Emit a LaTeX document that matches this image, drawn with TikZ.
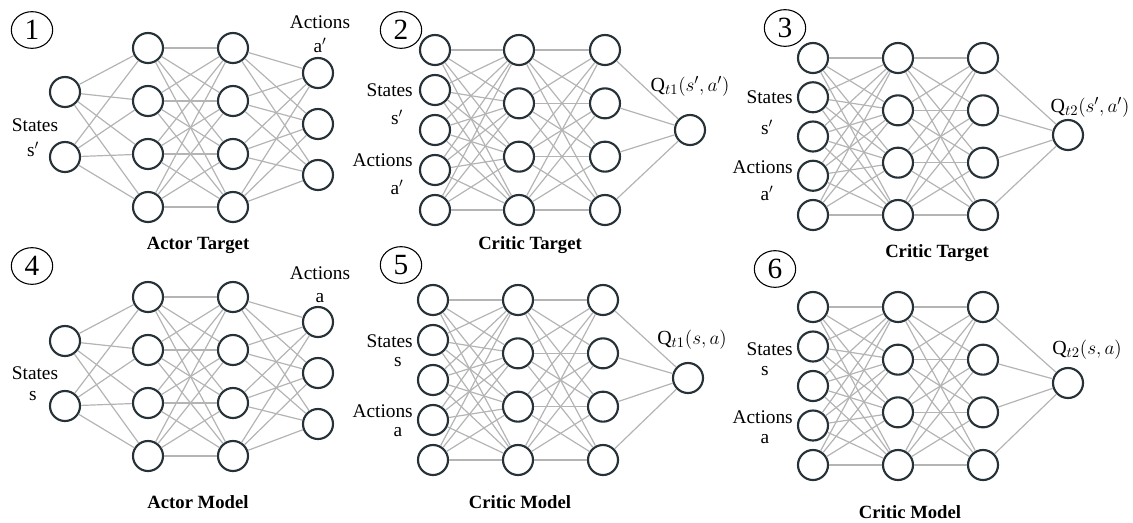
\documentclass[tikz,border=0pt]{standalone}
\usepackage{fontspec}
\setmainfont{Liberation Serif}
\usetikzlibrary{shapes.geometric}
\definecolor{nodeC}{HTML}{263238}
\definecolor{edgeC}{HTML}{B4B4B4}
\newcommand\lblfont{\rmfamily\fontsize{14.5}{16}\selectfont}
\newcommand\qfont{\rmfamily\fontsize{15}{17}\selectfont}
\newcommand\ttlfont{\rmfamily\fontsize{14}{16}\selectfont\bfseries}
\newcommand\numfont{\rmfamily\fontsize{22}{24}\selectfont}
\tikzset{
  neuron/.style={circle, draw=nodeC, line width=1.6pt, minimum size=22.5pt, inner sep=0pt},
  conn/.style={draw=edgeC, line width=0.9pt},
  lbl/.style={font=\lblfont, inner sep=0pt},
  qlbl/.style={font=\qfont, inner sep=0pt},
  ttl/.style={font=\ttlfont, inner sep=0pt},
  numc/.style={ellipse, draw=black, line width=0.8pt, minimum width=31pt, minimum height=27.5pt, inner sep=0pt, font=\numfont}
}
% critic net: #1 prefix, #2 xi, #3 xh1, #4 xh2, #5 xo, #6 ytop, #7 ybot, #8 yout
\newcommand\criticnet[8]{%
  \foreach \k in {1,...,5} \node[neuron] (#1i\k) at (#2,{#6+(\k-1)*(#7-#6)/4}) {};
  \foreach \k in {1,...,4} {
    \node[neuron] (#1h\k) at (#3,{#6+(\k-1)*(#7-#6)/3}) {};
    \node[neuron] (#1g\k) at (#4,{#6+(\k-1)*(#7-#6)/3}) {};
  }
  \node[neuron] (#1o1) at (#5,#8) {};
  \foreach \a in {1,...,5} \foreach \b in {1,...,4} \draw[conn] (#1i\a) -- (#1h\b);
  \foreach \a in {1,...,4} \foreach \b in {1,...,4} \draw[conn] (#1h\a) -- (#1g\b);
  \foreach \a in {1,...,4} \draw[conn] (#1g\a) -- (#1o1);
}
% actor net: #1 prefix, #2 y offset
\newcommand\actornet[2]{%
  \node[neuron] (#1i1) at (65,92+#2) {};
  \node[neuron] (#1i2) at (65,157+#2) {};
  \foreach \k in {1,...,4} {
    \node[neuron] (#1h\k) at (148,{48+(\k-1)*53+#2}) {};
    \node[neuron] (#1g\k) at (233,{48+(\k-1)*53+#2}) {};
  }
  \foreach \k in {1,...,3} \node[neuron] (#1o\k) at (318,{73+(\k-1)*51+#2}) {};
  \foreach \a in {1,2} \foreach \b in {1,...,4} \draw[conn] (#1i\a) -- (#1h\b);
  \foreach \a in {1,...,4} \foreach \b in {1,...,4} \draw[conn] (#1h\a) -- (#1g\b);
  \foreach \a in {1,...,4} \foreach \b in {1,...,3} \draw[conn] (#1g\a) -- (#1o\b);
}
\begin{document}
\begin{tikzpicture}[x=0.75pt,y=-0.75pt]
\useasboundingbox (0,0) rectangle (1133,522);
% ---------- Panel 1 ----------
\node[numc] (n1) at (32,30) {1};
\actornet{pa}{0}
\node[lbl] (pa-act) at (320,22) {Actions};
\node[lbl] (pa-a) at (320,45) {a$'$};
\node[lbl] (pa-st) at (35,125) {States};
\node[lbl] (pa-s) at (33,149) {s$'$};
\node[ttl] (pa-t) at (198,245) {Actor Target};
% ---------- Panel 4 ----------
\node[numc] (n4) at (32,266) {4};
\actornet{pd}{249}
\node[lbl] (pd-act) at (320,273) {Actions};
\node[lbl] (pd-a) at (320,298) {a};
\node[lbl] (pd-st) at (35,373) {States};
\node[lbl] (pd-s) at (33,396) {s};
\node[ttl] (pd-t) at (198,502) {Actor Model};
% ---------- Panel 2 ----------
\node[numc] (n2) at (401,30) {2};
\criticnet{pb}{435}{519}{605}{690}{50}{210}{130}
\node[lbl, anchor=east] (pb-st) at (413,90) {States};
\node[lbl] (pb-s) at (397,117) {s$'$};
\node[lbl, anchor=east] (pb-act) at (413,160) {Actions};
\node[lbl] (pb-a) at (397,187) {a$'$};
\node[qlbl] (pb-q) at (690,86) {Q$_{t1}(s',a')$};
\node[ttl] (pb-t) at (530,245) {Critic Target};
% ---------- Panel 5 ----------
\node[numc] (n5) at (401,265) {5};
\criticnet{pe}{433}{518}{603}{688}{300}{460}{378}
\node[lbl, anchor=east] (pe-st) at (413,341) {States};
\node[lbl] (pe-s) at (398,362) {s};
\node[lbl, anchor=east] (pe-act) at (413,411) {Actions};
\node[lbl] (pe-a) at (398,432) {a};
\node[qlbl] (pe-q) at (692,340) {Q$_{t1}(s,a)$};
\node[ttl] (pe-t) at (520,502) {Critic Model};
% ---------- Panel 3 ----------
\node[numc] (n3) at (785,28) {3};
\criticnet{pc}{813}{898}{983}{1068}{58}{215}{135}
\node[lbl, anchor=east] (pc-st) at (793,97) {States};
\node[lbl] (pc-s) at (767,127) {s$'$};
\node[lbl, anchor=east] (pc-act) at (793,167) {Actions};
\node[lbl] (pc-a) at (767,193) {a$'$};
\node[qlbl] (pc-q) at (1090,107) {Q$_{t2}(s',a')$};
\node[ttl] (pc-t) at (937,253) {Critic Target};
% ---------- Panel 6 ----------
\node[numc] (n6) at (775,269) {6};
\criticnet{pf}{813}{898}{983}{1068}{307}{465}{383}
\node[lbl, anchor=east] (pf-st) at (793,349) {States};
\node[lbl] (pf-s) at (765,371) {s};
\node[lbl, anchor=east] (pf-act) at (793,417) {Actions};
\node[lbl] (pf-a) at (765,439) {a};
\node[qlbl] (pf-q) at (1087,350) {Q$_{t2}(s,a)$};
\node[ttl] (pf-t) at (910,512) {Critic Model};
\end{tikzpicture}
\end{document}
